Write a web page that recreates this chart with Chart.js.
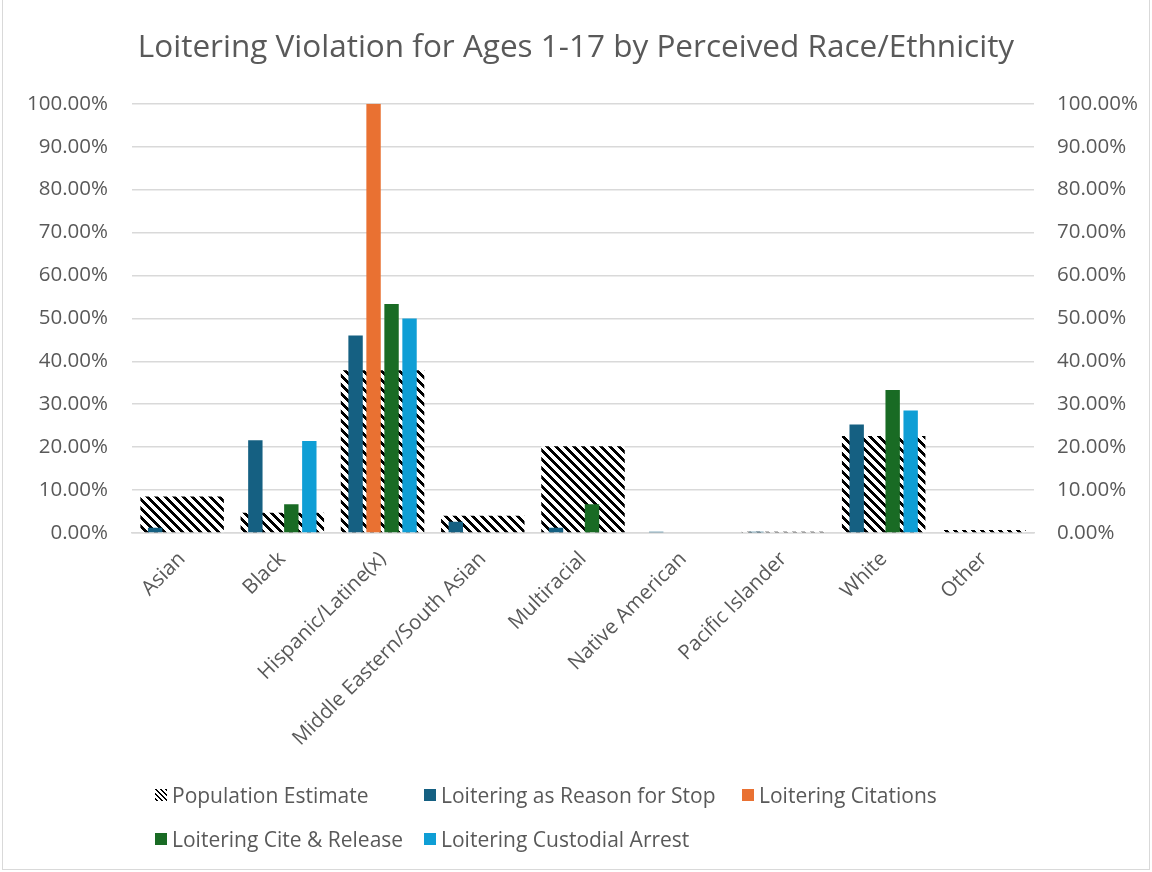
<!DOCTYPE html>
<html>
<head>
<meta charset="utf-8">
<script src="https://cdn.jsdelivr.net/npm/chart.js@4.4.1/dist/chart.umd.min.js"></script>
<style>
  html, body { margin: 0; padding: 0; background: #ffffff; }
  #wrap { position: relative; width: 1152px; height: 872px; overflow: hidden; background: #fff; }
  #frame { position: absolute; left: 2px; top: -2px; width: 1148px; height: 872px; border: 1px solid #d9d9d9; box-sizing: border-box; pointer-events: none; }
  #c { position: absolute; left: 0; top: 0; }
  .leg { position: absolute; font-family: 'Open Sans', sans-serif; font-size: 21px; color: #595959; white-space: nowrap; line-height: 24px; height: 24px; display: flex; align-items: center; }
  .sw { display: inline-block; width: 12px; height: 12px; margin-right: 5px; }
</style>
</head>
<body>
<div id="wrap">
  <canvas id="c" width="1152" height="872"></canvas>
  <div id="legend"></div>
  <div id="frame"></div>
</div>
<script>
// ---- Data ----
const categories = ['Asian', 'Black', 'Hispanic/Latine(x)', 'Middle Eastern/South Asian', 'Multiracial', 'Native American', 'Pacific Islander', 'White', 'Other'];
const populationEstimate = [8.5, 4.7, 37.9, 4.0, 20.2, 0, 0.3, 22.6, 0.7];
const reasonForStop      = [1.2, 21.6, 46.0, 2.6, 1.2, 0.3, 0.3, 25.3, 0];
const citations          = [0, 0, 100, 0, 0, 0, 0, 0, 0];
const citeRelease        = [0, 6.67, 53.33, 0, 6.67, 0, 0, 33.33, 0];
const custodialArrest    = [0, 21.43, 50, 0, 0, 0, 0, 28.57, 0];
const yTicks = [0, 10, 20, 30, 40, 50, 60, 70, 80, 90, 100];
const seriesNames = ['Population Estimate', 'Loitering as Reason for Stop', 'Loitering Citations', 'Loitering Cite & Release', 'Loitering Custodial Arrest'];
const chartTitle = 'Loitering Violation for Ages 1-17 by Perceived Race/Ethnicity';

// ---- Styles ----
const FONT = "'Open Sans', sans-serif";
const TXT = '#595959';
const colors = { stop: '#156082', cit: '#E97132', rel: '#196B24', arr: '#0F9ED5' };

function makeHatchCanvas(size, black) {
  const c = document.createElement('canvas');
  c.width = size; c.height = size;
  const g = c.getContext('2d');
  const img = g.createImageData(size, size);
  for (let y = 0; y < size; y++) {
    for (let x = 0; x < size; x++) {
      const k = ((x - y) % size + size) % size;
      const v = k < black ? 0 : 255;
      const i = (y * size + x) * 4;
      img.data[i] = v; img.data[i + 1] = v; img.data[i + 2] = v; img.data[i + 3] = 255;
    }
  }
  g.putImageData(img, 0, 0);
  return c;
}

function build() {
  const canvas = document.getElementById('c');
  const ctx = canvas.getContext('2d');
  const hatch = ctx.createPattern(makeHatchCanvas(9, 4), 'repeat');

  const tickFont = { family: FONT, size: 20.5 };
  const yTickCb = v => (yTicks.includes(v) ? v.toFixed(2) + '%' : '');

  new Chart(ctx, {
    type: 'bar',
    data: {
      labels: categories,
      datasets: [
        { label: seriesNames[0], data: populationEstimate, backgroundColor: hatch, grouped: false, categoryPercentage: 0.833, barPercentage: 1.0, order: 2 },
        { label: seriesNames[1], data: reasonForStop, backgroundColor: colors.stop, order: 1 },
        { label: seriesNames[2], data: citations, backgroundColor: colors.cit, order: 1 },
        { label: seriesNames[3], data: citeRelease, backgroundColor: colors.rel, order: 1 },
        { label: seriesNames[4], data: custodialArrest, backgroundColor: colors.arr, order: 1 }
      ]
    },
    options: {
      responsive: false,
      animation: false,
      datasets: { bar: { categoryPercentage: 0.718, barPercentage: 0.8, borderWidth: 0 } },
      layout: { padding: { top: 0, left: 0, right: 0, bottom: 109 } },
      plugins: {
        legend: { display: false },
        tooltip: { enabled: false },
        title: {
          display: true, text: chartTitle, color: TXT,
          font: { family: FONT, size: 31.5, weight: 'normal', lineHeight: 1.2 },
          padding: { top: 29, bottom: 37 }
        }
      },
      scales: {
        x: {
          offset: true,
          grid: { display: false },
          border: { display: true, color: '#d9d9d9', width: 1.5 },
          ticks: { font: tickFont, color: TXT, minRotation: 45, maxRotation: 45, autoSkip: false, padding: 6 },
          afterFit: s => { s.height = 230; }
        },
        y: {
          position: 'left', min: 0, max: 100,
          ticks: { stepSize: 10, callback: yTickCb, font: tickFont, color: TXT, padding: 24 },
          grid: { color: '#d9d9d9', lineWidth: 1.5, drawTicks: false },
          border: { display: false },
          afterFit: s => { s.width = 132; }
        },
        y2: {
          position: 'right', min: 0, max: 100,
          ticks: { stepSize: 10, callback: yTickCb, font: tickFont, color: TXT, padding: 23 },
          grid: { display: false, drawTicks: false },
          border: { display: false },
          afterFit: s => { s.width = 118; }
        }
      }
    }
  });

  // ---- HTML legend laid out in columns like the original ----
  const legendItems = [
    { name: seriesNames[0], fill: 'hatch', x: 155, y: 795 },
    { name: seriesNames[1], fill: colors.stop, x: 424, y: 795 },
    { name: seriesNames[2], fill: colors.cit, x: 742, y: 795 },
    { name: seriesNames[3], fill: colors.rel, x: 155, y: 839 },
    { name: seriesNames[4], fill: colors.arr, x: 424, y: 839 }
  ];
  const leg = document.getElementById('legend');
  legendItems.forEach(it => {
    const d = document.createElement('div');
    d.className = 'leg';
    d.style.left = it.x + 'px';
    d.style.top = (it.y - 12) + 'px';
    let sw;
    if (it.fill === 'hatch') {
      sw = document.createElement('canvas');
      sw.width = 12; sw.height = 12;
      const g = sw.getContext('2d');
      g.fillStyle = g.createPattern(makeHatchCanvas(5, 2), 'repeat');
      g.fillRect(0, 0, 12, 12);
    } else {
      sw = document.createElement('span');
      sw.style.background = it.fill;
    }
    sw.className = 'sw';
    d.appendChild(sw);
    const t = document.createElement('span');
    t.textContent = it.name;
    d.appendChild(t);
    leg.appendChild(d);
  });
}

if (document.fonts && document.fonts.load) {
  document.fonts.load("20px 'Open Sans'").then(build, build);
} else {
  build();
}
</script>
</body>
</html>
